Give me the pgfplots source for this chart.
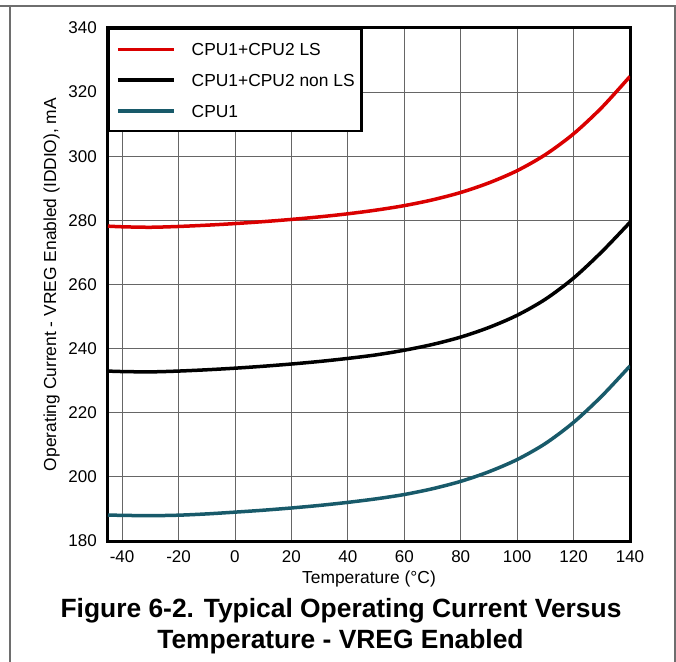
\documentclass[border=0pt]{standalone}
\usepackage{fontspec}
\setmainfont{Liberation Sans}
\usepackage{pgfplots}
\pgfplotsset{compat=1.18}

\definecolor{lsred}{RGB}{218,0,0}
\definecolor{cputeal}{RGB}{24,90,106}
\definecolor{framegray}{RGB}{110,110,110}
\newcommand{\lblfont}{\fontsize{17.4bp}{20bp}\selectfont}
\newcommand{\tickfont}{\fontsize{17bp}{20bp}\selectfont}
\newcommand{\titlefont}{\fontsize{26.4bp}{32bp}\selectfont\bfseries}

\begin{document}
\begin{tikzpicture}
\useasboundingbox (-108bp,-121bp) rectangle (568bp,541bp);
% page frame
\draw[framegray, line width=1.5bp] (-108bp,535bp) -- (567bp,535bp) -- (567bp,-121bp);
\draw[framegray, line width=1.5bp] (-98bp,535bp) -- (-98bp,-121bp);

\begin{axis}[
  at={(0,0)}, anchor=south west,
  scale only axis, width=522bp, height=513bp,
  xmin=-45, xmax=140, ymin=180, ymax=340,
  xtick={-40,-20,...,140},
  xticklabels={-40,-20,0,20,40,60,80,100,120,140},
  ytick={180,200,...,340},
  yticklabels={180,200,220,240,260,280,300,320,340},
  grid=major,
  major grid style={black!60, line width=0.9bp},
  major tick length=0pt,
  axis line style={line width=3bp},
  tick label style={font=\tickfont},
  xticklabel style={anchor=base, yshift=-21.5bp, inner sep=0pt},
  yticklabel style={anchor=east, inner sep=0pt, xshift=-11bp},
  xlabel={Temperature (°C)},
  xlabel style={at={(axis description cs:0.5,-0.0828)}, anchor=base, font=\lblfont, inner sep=0pt},
  ylabel={Operating Current - VREG Enabled (IDDIO), mA},
  ylabel style={at={(axis description cs:-0.0996,0.5)}, anchor=base, font=\lblfont, inner sep=0pt},
  legend style={at={(axis description cs:0,1)}, anchor=north west,
    draw=black, line width=2.5bp, fill=white, font=\lblfont,
    inner xsep=7bp, inner ysep=14bp, row sep=18.3bp, column sep=16bp,
    nodes={inner sep=0pt, text height=12.4bp, text depth=0pt}},
  legend cell align=left,
  legend image code/.code={\draw[#1, line width=3.5bp] (0bp,0bp) -- (56bp,0bp);},
]
\addplot[lsred, line width=3.5bp, smooth] coordinates {
  (-45,278.2) (-40,278.0) (-30,277.85) (-20,278.1) (-10,278.5) (0,279.0)
  (10,279.6) (20,280.3) (30,281.1) (40,282.05) (50,283.2) (60,284.6)
  (70,286.4) (80,288.7) (90,291.7) (100,295.5) (110,300.5) (120,307.0)
  (130,315.2) (140,324.9)};
\addlegendentry{CPU1+CPU2 LS}
\addplot[black, line width=3.5bp, smooth] coordinates {
  (-45,233.0) (-40,232.85) (-30,232.75) (-20,233.0) (-10,233.4) (0,233.9)
  (10,234.5) (20,235.2) (30,236.0) (40,236.95) (50,238.05) (60,239.5)
  (70,241.3) (80,243.6) (90,246.6) (100,250.4) (110,255.4) (120,262.0)
  (130,270.2) (140,279.4)};
\addlegendentry{CPU1+CPU2 non LS}
\addplot[cputeal, line width=3.5bp, smooth] coordinates {
  (-45,188.1) (-40,188.0) (-30,187.9) (-20,188.05) (-10,188.45) (0,189.0)
  (10,189.6) (20,190.3) (30,191.1) (40,192.05) (50,193.15) (60,194.5)
  (70,196.3) (80,198.6) (90,201.6) (100,205.4) (110,210.4) (120,217.0)
  (130,225.2) (140,234.6)};
\addlegendentry{CPU1}
\end{axis}

\node[font=\titlefont, anchor=base, inner sep=0pt] at (233bp,-76bp) {Figure 6-2. Typical Operating Current Versus};
\node[font=\titlefont, anchor=base, inner sep=0pt] at (232.5bp,-107bp) {Temperature - VREG Enabled};
\end{tikzpicture}
\end{document}
